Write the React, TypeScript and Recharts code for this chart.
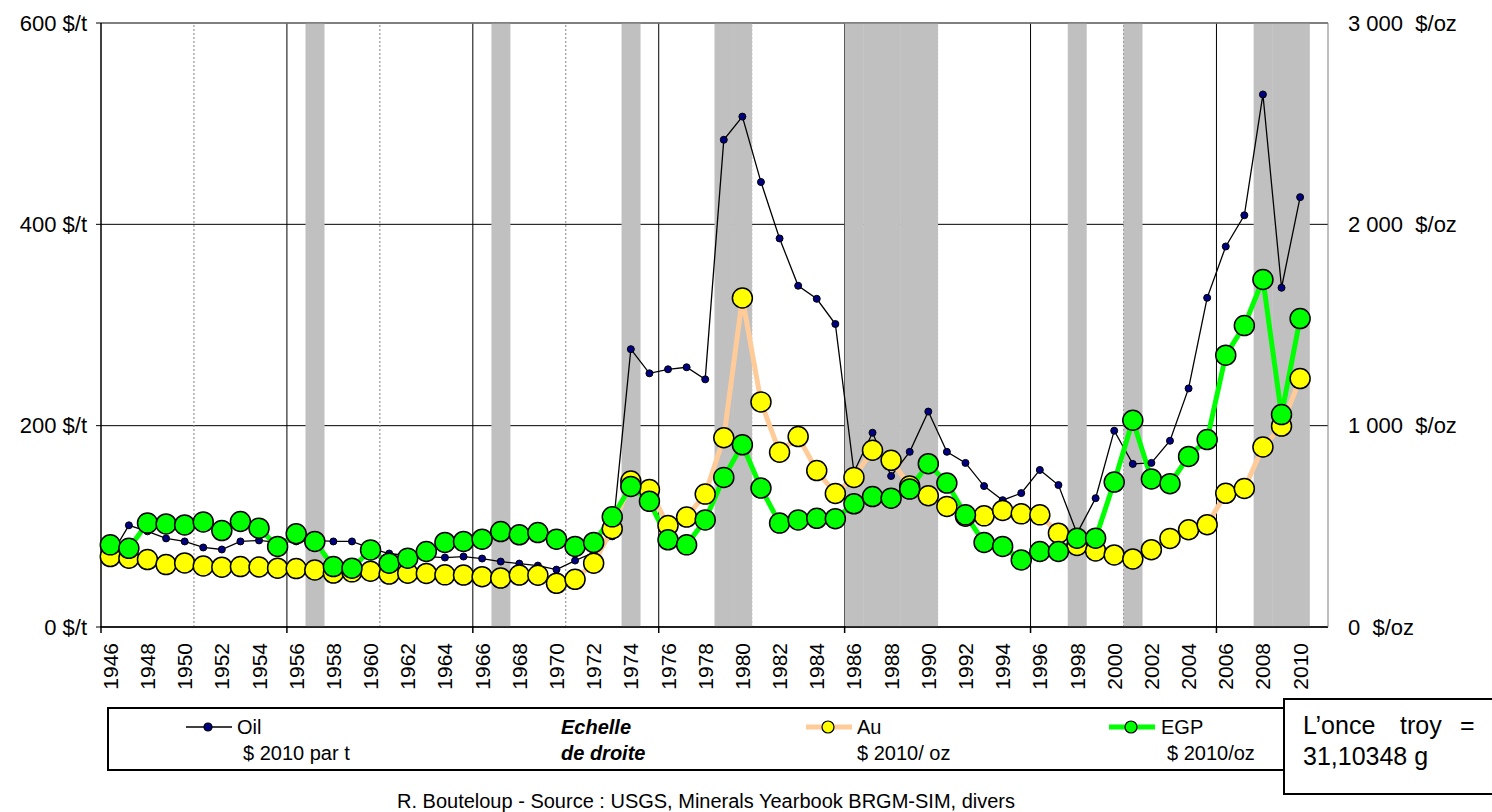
import React from 'react';
import { ComposedChart, Line, Bar, XAxis, YAxis, CartesianGrid, ReferenceLine } from 'recharts';

const FONT = '"Liberation Sans", Arial, sans-serif';

const years = [
  '1946', '1947', '1948', '1949', '1950', '1951', '1952', '1953', '1954', '1955',
  '1956', '1957', '1958', '1959', '1960', '1961', '1962', '1963', '1964', '1965',
  '1966', '1967', '1968', '1969', '1970', '1971', '1972', '1973', '1974', '1975',
  '1976', '1977', '1978', '1979', '1980', '1981', '1982', '1983', '1984', '1985',
  '1986', '1987', '1988', '1989', '1990', '1991', '1992', '1993', '1994', '1995',
  '1996', '1997', '1998', '1999', '2000', '2001', '2002', '2003', '2004', '2005',
  '2006', '2007', '2008', '2009', '2010', '2011',
];

// $ 2010 par t (left axis)
const oil = [
  70, 101, 95, 88, 85, 79, 77, 85, 86, 84,
  85, 86, 85, 85, 78, 73, 71, 70, 69, 70,
  68, 65, 63, 61, 57, 66, 74, 90, 276, 252,
  256, 258, 246, 484, 507, 442, 386, 339, 326, 301,
  154, 193, 150, 174, 214, 174, 163, 140, 126, 133,
  156, 141, 93, 128, 195, 162, 163, 185, 237, 327,
  378, 409, 529, 337, 427, null,
];

// $ 2010/ oz (right axis)
const au = [
  350, 342, 335, 310, 318, 303, 297, 300, 298, 292,
  290, 283, 268, 274, 277, 263, 267, 266, 259, 258,
  250, 243, 258, 257, 217, 237, 317, 488, 725, 683,
  504, 546, 660, 940, 1634, 1118, 868, 946, 777, 663,
  743, 878, 828, 700, 652, 599, 550, 552, 579, 562,
  557, 466, 405, 378, 358, 338, 384, 440, 483, 508,
  664, 688, 894, 998, 1234, null,
];

// $ 2010/oz (right axis)
const egp = [
  408, 391, 516, 512, 507, 522, 479, 524, 491, 400,
  463, 425, 300, 292, 383, 317, 342, 375, 420, 425,
  436, 474, 458, 469, 436, 400, 420, 547, 698, 624,
  433, 408, 532, 743, 905, 690, 516, 532, 540, 538,
  612, 648, 640, 685, 811, 715, 557, 420, 400, 333,
  375, 375, 441, 441, 720, 1027, 735, 712, 847, 931,
  1350, 1497, 1726, 1055, 1532, null,
];

const shadedYears = [
  '1957', '1967', '1974', '1979', '1980', '1986', '1987', '1988', '1989', '1990',
  '1998', '2001', '2008', '2009', '2010',
];
const majorLineYears = ['1956', '1966', '1976', '1986', '1996', '2006'];
const minorLineYears = ['1951', '1961', '1971', '1981', '1991', '2001'];
const tickMarkYears = ['1946', ...majorLineYears];
const leftTicks = [0, 200, 400, 600];
const rightTicks = [0, 1000, 2000, 3000];

const data = years.map((year, i) => ({
  year,
  oil: oil[i],
  au: au[i],
  egp: egp[i],
  band: shadedYears.includes(year) ? 3000 : null,
}));

const XTick = ({ x, y, payload }: any) => {
  const year = String(payload.value);
  const half = payload.offset || 9.3;
  const n = Number(year);
  const ty = y + 16;
  return (
    <g>
      {tickMarkYears.includes(year) && (
        <line x1={x - half} x2={x - half} y1={y - 1} y2={y + 6} stroke="#000" strokeWidth={1.5} />
      )}
      {n % 2 === 0 && n <= 2010 && (
        <text
          x={x}
          y={ty}
          transform={`rotate(-90 ${x} ${ty})`}
          textAnchor="end"
          dominantBaseline="central"
          fontSize={21}
          fontFamily={FONT}
          fill="#000"
        >
          {year}
        </text>
      )}
    </g>
  );
};

const RightTick = ({ x, y, payload }: any) => {
  const v = payload.value;
  const label = v === 0 ? '0  $/oz' : `${v / 1000} 000  $/oz`;
  return (
    <text
      x={x}
      y={y}
      textAnchor="start"
      dominantBaseline="central"
      fontSize={22}
      fontFamily={FONT}
      fill="#000"
      style={{ whiteSpace: 'pre' }}
    >
      {label}
    </text>
  );
};

const txt = (left: number, cy: number, content: string, extra: React.CSSProperties = {}) => (
  <div
    style={{
      position: 'absolute',
      left,
      top: cy - 12,
      height: 24,
      lineHeight: '24px',
      fontSize: 20,
      whiteSpace: 'pre',
      ...extra,
    }}
  >
    {content}
  </div>
);

const LegendIcon = ({ left, cy, line, lineWidth, dot, r }: any) => (
  <svg style={{ position: 'absolute', left, top: cy - 10 }} width={48} height={20}>
    <line x1={0} x2={46} y1={10} y2={10} stroke={line} strokeWidth={lineWidth} />
    <circle cx={22} cy={10} r={r} fill={dot} stroke="#000" strokeWidth={1.2} />
  </svg>
);

export default function App() {
  return (
    <div
      style={{
        position: 'absolute',
        left: 0,
        top: 0,
        width: 1492,
        height: 812,
        overflow: 'hidden',
        background: '#fff',
        fontFamily: FONT,
        color: '#000',
      }}
    >
      <ComposedChart
        width={1492}
        height={812}
        data={data}
        margin={{ top: 23, right: 0, bottom: 0, left: 0 }}
        barCategoryGap={0}
        barGap={0}
      >
        <CartesianGrid yAxisId="left" vertical={false} stroke="#000" strokeWidth={1} />
        <XAxis
          dataKey="year"
          interval={0}
          height={185}
          tickSize={0}
          tickMargin={0}
          tickLine={false}
          axisLine={{ stroke: '#000', strokeWidth: 1.5 }}
          tick={<XTick />}
        />
        <YAxis
          yAxisId="left"
          domain={[0, 600]}
          ticks={leftTicks}
          width={101}
          tickSize={5}
          tickMargin={9}
          tickFormatter={(v: number) => `${v} $/t`}
          tick={{ fill: '#000', fontSize: 22, fontFamily: FONT }}
          axisLine={{ stroke: '#000', strokeWidth: 1.5 }}
          tickLine={{ stroke: '#000' }}
        />
        <YAxis
          yAxisId="right"
          orientation="right"
          domain={[0, 3000]}
          ticks={rightTicks}
          width={164}
          tickSize={0}
          tickMargin={20}
          tickLine={false}
          axisLine={{ stroke: '#808080' }}
          tick={<RightTick />}
        />
        {minorLineYears.map((y) => (
          <ReferenceLine
            key={`minor-${y}`}
            x={y}
            yAxisId="left"
            position="start"
            stroke="#808080"
            strokeDasharray="2 2"
            zIndex={-50}
          />
        ))}
        {majorLineYears.map((y) => (
          <ReferenceLine
            key={`major-${y}`}
            x={y}
            yAxisId="left"
            position="start"
            stroke="#000"
            zIndex={-50}
          />
        ))}
        <ReferenceLine y={600} yAxisId="left" stroke="#808080" strokeWidth={1.5} />
        <Bar yAxisId="right" dataKey="band" fill="#C0C0C0" isAnimationActive={false} />
        <Line
          yAxisId="left"
          dataKey="oil"
          stroke="#000"
          strokeWidth={1.3}
          dot={{ r: 3.5, fill: '#000080', stroke: '#000', strokeWidth: 1 }}
          activeDot={false}
          isAnimationActive={false}
        />
        <Line
          yAxisId="right"
          dataKey="au"
          stroke="#FFCC99"
          strokeWidth={5}
          dot={{ r: 10, fill: '#FFFF00', stroke: '#000', strokeWidth: 1.5 }}
          activeDot={false}
          isAnimationActive={false}
        />
        <Line
          yAxisId="right"
          dataKey="egp"
          stroke="#00FF00"
          strokeWidth={5}
          dot={{ r: 10, fill: '#00FF00', stroke: '#000', strokeWidth: 1.5 }}
          activeDot={false}
          isAnimationActive={false}
        />
      </ComposedChart>

      <div
        style={{
          position: 'absolute',
          left: 107,
          top: 707,
          width: 1223,
          height: 64,
          boxSizing: 'border-box',
          border: '2px solid #000',
          background: '#fff',
        }}
      />
      <LegendIcon left={186} cy={727} line="#000" lineWidth={1.5} dot="#000080" r={4} />
      {txt(237, 727, 'Oil')}
      {txt(243, 753, '$ 2010 par t')}
      {txt(561, 727, 'Echelle', { fontWeight: 'bold', fontStyle: 'italic' })}
      {txt(561, 753, 'de droite', { fontWeight: 'bold', fontStyle: 'italic' })}
      <LegendIcon left={806} cy={727} line="#FFCC99" lineWidth={5} dot="#FFFF00" r={6} />
      {txt(857, 727, 'Au')}
      {txt(857, 753, '$ 2010/ oz')}
      <LegendIcon left={1109} cy={727} line="#00FF00" lineWidth={5} dot="#00FF00" r={6} />
      {txt(1161, 727, 'EGP')}
      {txt(1167, 753, '$ 2010/oz')}

      <div
        style={{
          position: 'absolute',
          left: 1283,
          top: 698,
          width: 240,
          height: 97,
          boxSizing: 'border-box',
          border: '2px solid #000',
          background: '#fff',
        }}
      />
      {txt(1303, 725, 'L’once', { fontSize: 25, height: 30, lineHeight: '30px', top: 710 })}
      {txt(1400, 725, 'troy', { fontSize: 25, height: 30, lineHeight: '30px', top: 710 })}
      {txt(1460, 725, '=', { fontSize: 25, height: 30, lineHeight: '30px', top: 710 })}
      {txt(1303, 756, '31,10348 g', { fontSize: 25, height: 30, lineHeight: '30px', top: 741 })}

      <div
        style={{
          position: 'absolute',
          left: 0,
          width: 1412,
          top: 790,
          height: 22,
          lineHeight: '22px',
          textAlign: 'center',
          fontSize: 20,
        }}
      >
        R. Bouteloup - Source : USGS, Minerals Yearbook BRGM-SIM, divers
      </div>
    </div>
  );
}
